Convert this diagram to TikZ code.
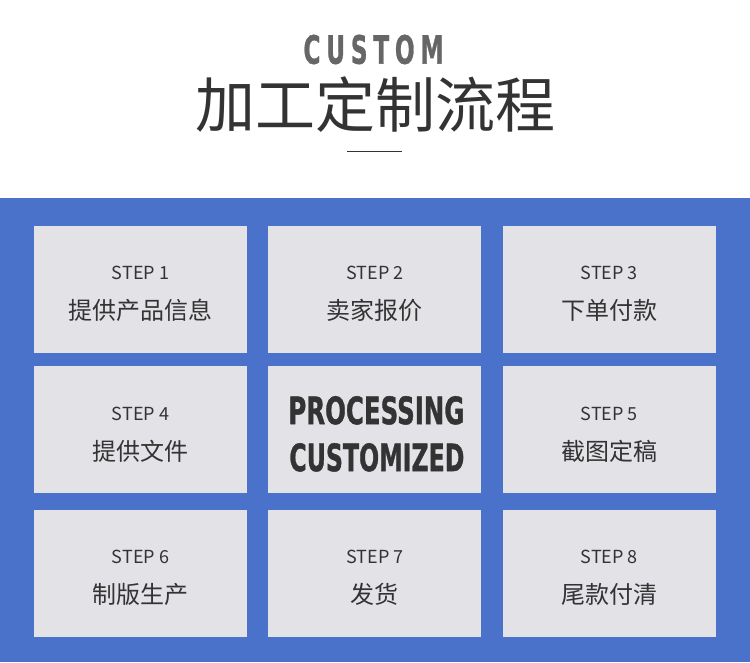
\documentclass[tikz,border=0pt]{standalone}
\usepackage{fontspec}
\setmainfont{Noto Sans CJK SC}
\newfontfamily\headfont{DejaVu Sans}[BoldFeatures={FakeBold=1.2}]
\usepackage{graphicx}
\usetikzlibrary{positioning, calc}

\definecolor{bgblue}{HTML}{4A72CB}
\definecolor{cellgray}{HTML}{E3E2E7}
\definecolor{textdark}{HTML}{333333}
\definecolor{titlegray}{HTML}{666666}

\begin{document}
\begin{tikzpicture}[
  x=1pt, y=-1pt,
  cell/.style = {fill=cellgray, minimum width=213pt, minimum height=127pt, inner sep=0pt},
  stepno/.style = {anchor=base, inner sep=0pt, text=textdark, font=\fontsize{18}{18}\selectfont},
  steptext/.style = {anchor=base, inner sep=0pt, text=textdark, font=\fontsize{24}{24}\selectfont},
  bigword/.style = {inner sep=0pt, text=textdark},
  node distance=13pt and 21pt
]

  % Page and blue panel
  \useasboundingbox (0,0) rectangle (750,662);
  \fill[white] (0,0) rectangle (750,198);
  \fill[bgblue] (0,198) rectangle (750,662);

  % Heading
  \node[inner sep=0pt, text=titlegray] (custom) at (373.5,49.5)
    {\resizebox{140pt}{29pt}{\headfont\bfseries C\hspace{0.25em}U\hspace{0.25em}S\hspace{0.25em}T\hspace{0.25em}O\hspace{0.25em}M}};
  \node[inner sep=0pt, text=textdark, font=\fontsize{60}{60}\selectfont] (title) at (375.5,104.5) {加工定制流程};
  \coordinate (ruleL) at (347,151);
  \coordinate (ruleR) at (402,151);
  \draw[textdark, line width=1pt] (ruleL) -- (ruleR);

  % Row 1
  \node[cell] (s1) at (140.5,289.5) {};
  \node[cell, right=of s1] (s2) {};
  \node[cell, right=of s2] (s3) {};

  % Row 2
  \node[cell, below=of s1] (s4) {};
  \node[cell, right=of s4] (core) {};
  \node[cell, right=of core] (s5) {};

  % Row 3
  \node[cell, below=16pt of s4] (s6) {};
  \node[cell, right=of s6] (s7) {};
  \node[cell, right=of s7] (s8) {};

  % Step labels
  \node[stepno] (s1no) at ($(s1.north)+(0,54)$) {STEP 1};
  \node[steptext] (s1tx) at ($(s1.north)+(0,94)$) {提供产品信息};
  \node[stepno] (s2no) at ($(s2.north)+(0,54)$) {STEP 2};
  \node[steptext] (s2tx) at ($(s2.north)+(0,94)$) {卖家报价};
  \node[stepno] (s3no) at ($(s3.north)+(0,54)$) {STEP 3};
  \node[steptext] (s3tx) at ($(s3.north)+(0,94)$) {下单付款};
  \node[stepno] (s4no) at ($(s4.north)+(0,54)$) {STEP 4};
  \node[steptext] (s4tx) at ($(s4.north)+(0,94)$) {提供文件};
  \node[stepno] (s5no) at ($(s5.north)+(0,54)$) {STEP 5};
  \node[steptext] (s5tx) at ($(s5.north)+(0,94)$) {截图定稿};
  \node[stepno] (s6no) at ($(s6.north)+(0,54)$) {STEP 6};
  \node[steptext] (s6tx) at ($(s6.north)+(0,94)$) {制版生产};
  \node[stepno] (s7no) at ($(s7.north)+(0,54)$) {STEP 7};
  \node[steptext] (s7tx) at ($(s7.north)+(0,94)$) {发货};
  \node[stepno] (s8no) at ($(s8.north)+(0,54)$) {STEP 8};
  \node[steptext] (s8tx) at ($(s8.north)+(0,94)$) {尾款付清};

  % Centre cell
  \node[bigword] (proc) at ($(core.center)+(1.5,-19.5)$)
    {\resizebox{176pt}{28pt}{\headfont\bfseries PROCESSING}};
  \node[bigword] (cust) at ($(core.center)+(2,27.5)$)
    {\resizebox{175pt}{28pt}{\headfont\bfseries CUSTOMIZED}};

\end{tikzpicture}
\end{document}
